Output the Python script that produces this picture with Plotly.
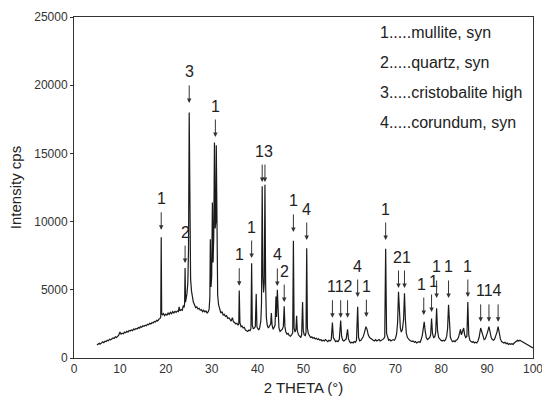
import plotly.graph_objects as go

# ---------------- data ----------------
two_theta = [
    5.0, 5.25, 5.5, 5.75, 6.0, 6.25, 6.5, 6.75, 7.0, 7.25,
    7.5, 7.75, 8.0, 8.25, 8.5, 8.75, 9.0, 9.25, 9.5, 9.75,
    10.0, 10.25, 10.5, 10.75, 11.0, 11.25, 11.5, 11.75, 12.0, 12.25,
    12.5, 12.75, 13.0, 13.25, 13.5, 13.75, 14.0, 14.25, 14.5, 14.75,
    15.0, 15.25, 15.5, 15.75, 16.0, 16.25, 16.5, 16.75, 17.0, 17.25,
    17.5, 17.75, 18.0, 18.25, 18.5, 18.75, 18.9, 19.0, 19.1, 19.25,
    19.5, 19.75, 20.0, 20.25, 20.5, 20.75, 21.0, 21.25, 21.5, 21.75,
    22.0, 22.25, 22.5, 22.75, 22.9, 23.1, 23.35, 23.6, 23.8, 24.0,
    24.1, 24.2, 24.3, 24.45, 24.6, 24.8, 24.95, 25.1, 25.25, 25.4,
    25.6, 25.8, 26.0, 26.25, 26.5, 26.75, 27.0, 27.25, 27.5, 27.75,
    28.0, 28.25, 28.5, 28.75, 29.0, 29.25, 29.45, 29.6, 29.7, 29.85,
    30.0, 30.15, 30.3, 30.45, 30.6, 30.75, 30.9, 31.0, 31.15, 31.3,
    31.5, 31.75, 32.0, 32.25, 32.5, 32.75, 33.0, 33.25, 33.5, 33.75,
    34.0, 34.25, 34.5, 34.75, 35.0, 35.25, 35.5, 35.75, 35.9, 36.0,
    36.15, 36.4, 36.6, 36.85, 37.1, 37.35, 37.6, 37.85, 38.1, 38.35,
    38.55, 38.7, 38.85, 39.05, 39.3, 39.5, 39.7, 39.85, 40.05, 40.25,
    40.45, 40.7, 40.85, 41.0, 41.15, 41.3, 41.45, 41.6, 41.75, 41.9,
    42.1, 42.35, 42.6, 42.85, 43.0, 43.15, 43.4, 43.6, 43.8, 44.0,
    44.12, 44.3, 44.45, 44.65, 44.9, 45.1, 45.35, 45.6, 45.8, 45.95,
    46.15, 46.4, 46.65, 46.9, 47.15, 47.4, 47.65, 47.8, 47.95, 48.15,
    48.35, 48.5, 48.65, 48.9, 49.15, 49.4, 49.6, 49.8, 49.95, 50.15,
    50.4, 50.55, 50.7, 50.85, 51.05, 51.3, 51.55, 51.8, 52.05, 52.3,
    52.55, 52.8, 53.05, 53.3, 53.55, 53.8, 54.05, 54.3, 54.55, 54.8,
    55.05, 55.3, 55.55, 55.8, 56.05, 56.3, 56.5, 56.75, 57.0, 57.25,
    57.5, 57.8, 58.1, 58.3, 58.55, 58.8, 59.05, 59.3, 59.6, 59.8,
    60.05, 60.3, 60.55, 60.8, 61.05, 61.3, 61.55, 61.8, 62.0, 62.25,
    62.5, 62.75, 63.0, 63.3, 63.6, 63.85, 64.1, 64.4, 64.7, 64.95,
    65.2, 65.45, 65.7, 65.95, 66.2, 66.45, 66.7, 66.95, 67.2, 67.45,
    67.7, 67.9, 68.1, 68.3, 68.55, 68.8, 69.05, 69.3, 69.55, 69.8,
    70.05, 70.3, 70.5, 70.7, 70.9, 71.1, 71.3, 71.55, 71.8, 72.0,
    72.2, 72.4, 72.65, 72.9, 73.15, 73.4, 73.65, 73.9, 74.15, 74.4,
    74.65, 74.9, 75.15, 75.4, 75.65, 75.9, 76.1, 76.3, 76.5, 76.75,
    77.0, 77.25, 77.5, 77.7, 77.9, 78.1, 78.35, 78.6, 78.8, 79.0,
    79.2, 79.45, 79.7, 79.95, 80.2, 80.45, 80.7, 80.95, 81.2, 81.4,
    81.6, 81.8, 82.0, 82.25, 82.5, 82.75, 83.0, 83.25, 83.5, 83.75,
    84.0, 84.2, 84.4, 84.65, 84.9, 85.1, 85.35, 85.6, 85.8, 86.0,
    86.25, 86.5, 86.75, 87.0, 87.25, 87.5, 87.75, 88.0, 88.25, 88.6,
    88.85, 89.1, 89.35, 89.6, 89.85, 90.1, 90.4, 90.65, 90.9, 91.15,
    91.4, 91.65, 91.9, 92.15, 92.4, 92.65, 92.9, 93.15, 93.4, 93.65,
    93.9, 94.15, 94.4, 94.65, 94.9, 95.15, 95.4, 95.65, 95.9, 96.15,
    96.4, 96.65, 96.9, 97.15, 97.4, 97.65, 97.9, 98.15, 98.4, 98.65,
    98.9, 99.15, 99.4, 99.7, 100.0,
]
intensity = [
    950, 1000, 1080, 1020, 1100, 1180, 1120, 1230, 1200, 1300,
    1260, 1380, 1340, 1420, 1470, 1430, 1550, 1500, 1620, 1680,
    1900, 1750, 1820, 1780, 1900, 1850, 1960, 1900, 2020, 1980,
    2060, 2010, 2130, 2080, 2170, 2120, 2230, 2190, 2300, 2250,
    2360, 2320, 2400, 2360, 2470, 2430, 2540, 2500, 2600, 2560,
    2680, 2640, 2760, 2720, 2850, 2900, 3000, 8850, 3300, 3150,
    3250, 3100, 3220, 3150, 3300, 3200, 3350, 3250, 3400, 3300,
    3420, 3350, 3450, 3400, 3750, 3450, 3550, 3500, 3850, 3700,
    4000, 6600, 4100, 4300, 4700, 5500, 8000, 18000, 8500, 5800,
    4900, 4400, 4100, 3900, 3700, 3750, 3600, 3650, 3500, 3550,
    3400, 3500, 3380, 3450, 3300, 3400, 3600, 4500, 8700, 5200,
    6000, 11400, 7000, 9000, 15800, 9500, 10000, 15600, 7000, 4600,
    3900, 3500, 3300, 3400, 3150, 3200, 3050, 3100, 2900, 2950,
    2800, 2700, 2950, 2650, 2600, 2500, 2550, 2400, 2500, 4950,
    2600, 2300, 2350, 2200, 2250, 2050, 2000, 1950, 2050, 2000,
    2150, 6950, 2400, 2150, 2200, 2300, 4700, 2300, 2150, 2050,
    2200, 2700, 4000, 12600, 6000, 4800, 5500, 12700, 5500, 3000,
    2400, 2200, 2350, 2500, 3300, 2400, 2100, 2200, 2400, 4500,
    3000, 5000, 2800, 2200, 1950, 2000, 2100, 2300, 3800, 2300,
    1900, 1750, 1800, 1650, 1600, 1700, 1850, 8600, 2200, 1900,
    2100, 3100, 2000, 1700, 1550, 1500, 1700, 4100, 2000, 1700,
    1650, 1900, 8050, 2200, 1800, 1600, 1500, 1550, 1450, 1500,
    1400, 1450, 1350, 1400, 1300, 1350, 1250, 1300, 1250, 1350,
    1250, 1200, 1300, 1250, 1350, 2600, 1500, 1300, 1200, 1250,
    1200, 1350, 2750, 1600, 1300, 1250, 1300, 1400, 2100, 1400,
    1200, 1100, 1150, 1100, 1200, 1150, 1300, 3750, 1500, 1250,
    1300, 1400, 1550, 1900, 2300, 2100, 1700, 1500, 1400, 1350,
    1300, 1250, 1350, 1250, 1300, 1350, 1250, 1300, 1350, 1400,
    1550, 8000, 1800, 1450, 1300, 1350, 1250, 1300, 1350, 1300,
    1450, 1800, 2600, 4850, 3200, 2200, 1900, 2100, 2800, 4750,
    2800, 1800, 1500, 1350, 1300, 1250, 1200, 1250, 1150, 1200,
    1100, 1150, 1200, 1150, 1350, 1700, 2400, 2650, 2000, 1500,
    1350, 1400, 1500, 1700, 2900, 1800, 1500, 1550, 1900, 3650,
    2000, 1500, 1350, 1300, 1250, 1300, 1250, 1350, 1600, 2200,
    3900, 2100, 1500, 1300, 1200, 1250, 1200, 1300, 1350, 1500,
    1800, 2100, 1700, 1900, 2200, 1700, 1500, 1600, 4100, 1700,
    1300, 1200, 1150, 1200, 1100, 1150, 1100, 1250, 1500, 2200,
    1900, 1500, 1350, 1400, 1600, 1900, 2300, 1800, 1500, 1350,
    1300, 1400, 1600, 1900, 2300, 1800, 1400, 1200, 1150, 1100,
    1150, 1050, 1100, 1000, 1050, 1000, 1050, 1000, 1100, 1150,
    1200, 1300, 1250, 1300, 1250, 1200, 1150, 1100, 1050, 1000,
    950, 900, 850, 800, 730,
]
assert len(two_theta) == len(intensity), (len(two_theta), len(intensity))

# peak marker groups: label text, arrow positions (2θ), arrow-tip intensity
peak_labels = ["1", "2", "3", "1", "1", "1", "13", "4", "2", "1", "4",
               "112", "4", "1", "1", "21", "1", "1", "1", "1", "1", "114"]
peak_positions = [[19.0], [24.2], [25.1], [30.8], [36.0], [38.7], [41.0, 41.6],
                  [44.3], [45.8], [47.8], [50.7], [56.3, 58.1, 59.6], [61.8],
                  [63.7], [67.9], [70.7, 72.0], [76.2], [77.9], [79.0], [81.6],
                  [85.8], [88.6, 90.4, 92.4]]
peak_tips = [9400, 6960, 18700, 16200, 5300, 7330, 12900, 5280, 4100, 9240,
             8650, 2950, 4470, 3000, 8650, 5130, 3150, 3370, 4400, 4400,
             4470, 2650]

legend_lines = ["1.....mullite, syn", "2.....quartz, syn",
                "3.....cristobalite high", "4.....corundum, syn"]

x_ticks = [0, 10, 20, 30, 40, 50, 60, 70, 80, 90, 100]
y_ticks = [0, 5000, 10000, 15000, 20000, 25000]
y_tick_text = ["0", "5000", "10000", "15000", "20000", "25000"]

# ---------------- figure ----------------
FONT = "Liberation Sans, Arial, sans-serif"
fig = go.Figure()
fig.add_trace(go.Scatter(x=two_theta, y=intensity, mode="lines",
                         line=dict(color="#1a1a1a", width=1.2),
                         hoverinfo="skip", showlegend=False))

annotations = []
ARROW_LEN = 19
LABEL_SHIFT = 31
# small horizontal nudges so the two crowded single labels near 77° do not collide
label_nudge = {16: -2, 17: 2}
for i, (lab, xs, tip) in enumerate(zip(peak_labels, peak_positions, peak_tips)):
    for xv in xs:
        annotations.append(dict(x=xv, y=tip, xref="x", yref="y", text="",
                                showarrow=True, ax=0, ay=-ARROW_LEN,
                                arrowhead=2, arrowsize=0.9, arrowwidth=1,
                                arrowcolor="#333333", standoff=0))
    annotations.append(dict(x=sum(xs) / len(xs), y=tip, xref="x", yref="y",
                            text=lab, showarrow=False, yshift=LABEL_SHIFT,
                            xshift=label_nudge.get(i, 0),
                            yanchor="middle", xanchor="center",
                            font=dict(family=FONT, size=16, color="#222222")))

legend_y = [0.956, 0.868, 0.780, 0.692]
for txt, yy in zip(legend_lines, legend_y):
    annotations.append(dict(x=0.662, y=yy, xref="paper", yref="paper",
                            text=txt, showarrow=False, xanchor="left",
                            yanchor="middle",
                            font=dict(family=FONT, size=16, color="#222222")))

fig.update_layout(
    width=542, height=396,
    margin=dict(l=74, r=9, t=17, b=38),
    paper_bgcolor="white", plot_bgcolor="white",
    font=dict(family=FONT, color="#222222"),
    annotations=annotations,
    showlegend=False,
)
fig.update_xaxes(range=[0, 100], tickvals=x_ticks, showgrid=False, zeroline=False,
                 showline=True, linecolor="#333333", linewidth=1, mirror=True,
                 ticks="", ticklabeloverflow="allow", automargin=False,
                 tickfont=dict(family=FONT, size=12, color="#333333"),
                 title=dict(text="2 THETA (°)", standoff=8,
                            font=dict(family=FONT, size=15, color="#222222")))
fig.update_yaxes(range=[0, 25000], tickvals=y_ticks, ticktext=y_tick_text,
                 showgrid=False, zeroline=False,
                 showline=True, linecolor="#333333", linewidth=1, mirror=True,
                 ticks="outside", ticklen=3, tickcolor="#333333",
                 ticklabeloverflow="allow", automargin=False,
                 tickfont=dict(family=FONT, size=12, color="#333333"),
                 title=dict(text="Intensity cps", standoff=8,
                            font=dict(family=FONT, size=15, color="#222222")))

fig.write_html("out.html")
